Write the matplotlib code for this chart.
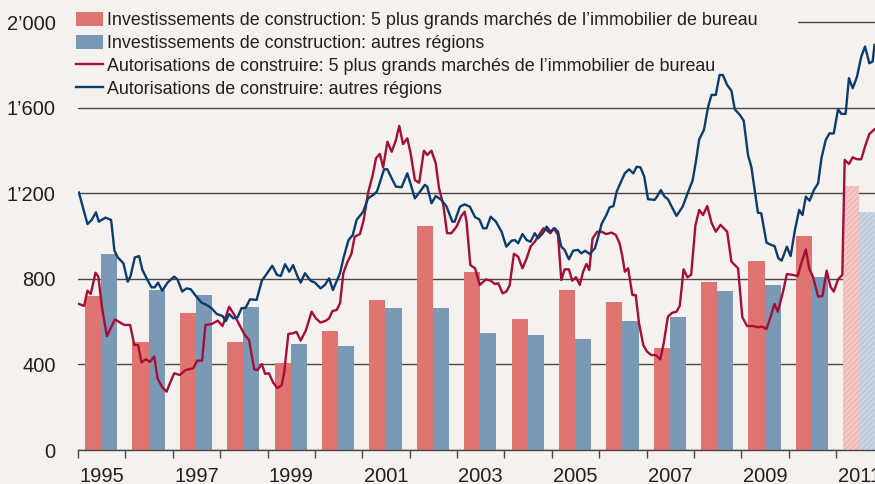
import numpy as np
import matplotlib
matplotlib.use("Agg")
import matplotlib.pyplot as plt
from matplotlib.patches import Patch, Rectangle
from matplotlib.lines import Line2D

# annual bars (last year = forecast, hatched)
years = np.arange(1995, 2012)
inv_top5 = [720, 504, 640, 504, 406, 555, 700, 1050, 831, 611, 747, 691, 476, 784, 882, 999, 1237]
inv_other = [919, 747, 723, 669, 495, 485, 663, 663, 546, 537, 518, 602, 621, 742, 770, 807, 1111]

# building permits (time in years, value)
perm_other_t = [1995.02, 1995.20, 1995.29, 1995.38, 1995.44, 1995.58, 1995.70, 1995.77, 1995.84, 1995.96,
                1996.05, 1996.11, 1996.20, 1996.29, 1996.36, 1996.45, 1996.55, 1996.62, 1996.69, 1996.78,
                1996.89, 1997.03, 1997.10, 1997.20, 1997.29, 1997.38, 1997.50, 1997.61, 1997.72, 1997.82,
                1997.93, 1998.05, 1998.12, 1998.19, 1998.28, 1998.37, 1998.45, 1998.54, 1998.63, 1998.77,
                1998.88, 1998.98, 1999.10, 1999.20, 1999.28, 1999.37, 1999.46, 1999.54, 1999.64, 1999.70,
                1999.79, 1999.91, 2000.00, 2000.12, 2000.21, 2000.30, 2000.38, 2000.53, 2000.61, 2000.71,
                2000.80, 2000.88, 2001.02, 2001.12, 2001.23, 2001.31, 2001.46, 2001.53, 2001.62, 2001.71,
                2001.83, 2001.95, 2002.02, 2002.11, 2002.22, 2002.32, 2002.37, 2002.46, 2002.55, 2002.67,
                2002.78, 2002.90, 2002.95, 2003.06, 2003.16, 2003.27, 2003.38, 2003.47, 2003.55, 2003.62,
                2003.71, 2003.82, 2003.94, 2004.04, 2004.15, 2004.22, 2004.29, 2004.38, 2004.47, 2004.55,
                2004.64, 2004.71, 2004.82, 2004.89, 2004.97, 2005.06, 2005.13, 2005.20, 2005.27, 2005.36,
                2005.45, 2005.55, 2005.62, 2005.70, 2005.80, 2005.91, 2005.98, 2006.05, 2006.15, 2006.22,
                2006.30, 2006.37, 2006.45, 2006.54, 2006.63, 2006.72, 2006.79, 2006.87, 2006.95, 2007.03,
                2007.17, 2007.22, 2007.30, 2007.38, 2007.45, 2007.63, 2007.76, 2007.88, 2007.97, 2008.04,
                2008.11, 2008.21, 2008.30, 2008.37, 2008.46, 2008.54, 2008.61, 2008.70, 2008.79, 2008.86,
                2008.97, 2009.05, 2009.14, 2009.21, 2009.35, 2009.42, 2009.53, 2009.63, 2009.70, 2009.78,
                2009.85, 2009.96, 2010.04, 2010.13, 2010.22, 2010.29, 2010.36, 2010.44, 2010.53, 2010.62,
                2010.69, 2010.78, 2010.86, 2010.95, 2011.04, 2011.11, 2011.20, 2011.27, 2011.35, 2011.44,
                2011.53, 2011.61, 2011.70, 2011.77, 2011.81]
perm_other_v = [1204, 1057, 1076, 1112, 1068, 1087, 1076, 932, 901, 873,
                787, 814, 901, 907, 842, 803, 761, 761, 783, 745,
                783, 811, 798, 741, 756, 752, 717, 689, 678, 663,
                636, 627, 603, 636, 616, 621, 663, 666, 705, 702,
                792, 823, 862, 819, 814, 869, 834, 865, 808, 783,
                827, 792, 783, 756, 772, 803, 748, 827, 904, 982,
                1006, 1076, 1115, 1177, 1193, 1209, 1313, 1313, 1271, 1232,
                1229, 1294, 1244, 1177, 1209, 1240, 1232, 1154, 1188, 1170,
                1138, 1068, 1068, 1138, 1149, 1138, 1089, 1079, 1037, 1037,
                1091, 1068, 1021, 951, 979, 982, 967, 1010, 982, 974,
                1014, 990, 1017, 1045, 1021, 1037, 1021, 951, 936, 892,
                932, 936, 920, 932, 917, 944, 998, 1057, 1099, 1135,
                1141, 1209, 1250, 1294, 1313, 1294, 1325, 1322, 1279, 1173,
                1170, 1185, 1216, 1185, 1173, 1095, 1138, 1209, 1260, 1349,
                1453, 1497, 1607, 1661, 1661, 1754, 1754, 1707, 1681, 1594,
                1567, 1540, 1380, 1325, 1110, 1107, 970, 959, 954, 897,
                886, 951, 907, 1029, 1123, 1099, 1185, 1166, 1216, 1248,
                1365, 1450, 1481, 1481, 1594, 1572, 1572, 1739, 1692, 1746,
                1840, 1887, 1809, 1817, 1895]

perm_top5_t = [1995.02, 1995.13, 1995.20, 1995.27, 1995.37, 1995.43, 1995.51, 1995.61, 1995.70, 1995.78,
               1995.89, 1995.98, 1996.10, 1996.19, 1996.27, 1996.34, 1996.43, 1996.52, 1996.61, 1996.68,
               1996.78, 1996.87, 1996.94, 1997.03, 1997.15, 1997.27, 1997.43, 1997.52, 1997.62, 1997.69,
               1997.82, 1997.95, 1998.05, 1998.12, 1998.19, 1998.30, 1998.42, 1998.52, 1998.61, 1998.72,
               1998.79, 1998.88, 1998.95, 1999.03, 1999.12, 1999.21, 1999.30, 1999.35, 1999.44, 1999.54,
               1999.61, 1999.70, 1999.81, 1999.93, 2000.02, 2000.12, 2000.23, 2000.30, 2000.37, 2000.46,
               2000.53, 2000.60, 2000.68, 2000.77, 2000.84, 2000.95, 2001.03, 2001.12, 2001.22, 2001.29,
               2001.37, 2001.44, 2001.53, 2001.62, 2001.71, 2001.78, 2001.86, 2001.95, 2002.02, 2002.11,
               2002.20, 2002.30, 2002.37, 2002.46, 2002.55, 2002.62, 2002.71, 2002.79, 2002.88, 2002.99,
               2003.09, 2003.16, 2003.20, 2003.28, 2003.38, 2003.48, 2003.61, 2003.71, 2003.80, 2003.87,
               2003.96, 2004.04, 2004.11, 2004.20, 2004.29, 2004.38, 2004.47, 2004.55, 2004.64, 2004.73,
               2004.82, 2004.90, 2004.97, 2005.04, 2005.13, 2005.20, 2005.27, 2005.36, 2005.43, 2005.51,
               2005.59, 2005.66, 2005.73, 2005.79, 2005.86, 2005.96, 2006.05, 2006.15, 2006.26, 2006.35,
               2006.43, 2006.49, 2006.54, 2006.61, 2006.70, 2006.77, 2006.84, 2006.93, 2007.01, 2007.10,
               2007.19, 2007.29, 2007.36, 2007.45, 2007.54, 2007.63, 2007.70, 2007.78, 2007.86, 2007.94,
               2008.03, 2008.11, 2008.19, 2008.28, 2008.37, 2008.46, 2008.56, 2008.70, 2008.79, 2008.93,
               2009.02, 2009.12, 2009.25, 2009.35, 2009.44, 2009.53, 2009.63, 2009.70, 2009.77, 2009.88,
               2009.96, 2010.08, 2010.19, 2010.26, 2010.36, 2010.43, 2010.51, 2010.62, 2010.71, 2010.80,
               2010.88, 2010.95, 2011.04, 2011.13, 2011.18, 2011.27, 2011.35, 2011.44, 2011.53, 2011.62,
               2011.70, 2011.81]
perm_top5_v = [683, 674, 745, 730, 829, 811, 663, 533, 574, 611,
               596, 585, 585, 491, 491, 410, 424, 413, 437, 335,
               293, 273, 312, 359, 351, 374, 382, 418, 418, 585,
               589, 605, 580, 624, 670, 632, 580, 538, 515, 377,
               374, 402, 356, 359, 315, 289, 304, 359, 543, 546,
               553, 512, 560, 647, 616, 596, 605, 616, 650, 655,
               686, 827, 876, 917, 998, 1010, 1076, 1201, 1286, 1365,
               1385, 1322, 1442, 1395, 1450, 1516, 1431, 1458, 1388, 1263,
               1250, 1400, 1380, 1400, 1341, 1224, 1146, 1014, 1014, 1045,
               1095, 1115, 1068, 865, 850, 772, 798, 792, 776, 780,
               733, 741, 770, 918, 904, 850, 897, 951, 974, 1006,
               1037, 1026, 1014, 1037, 1006, 795, 845, 845, 792, 808,
               772, 834, 870, 842, 990, 1021, 1021, 1010, 1017, 1006,
               967, 904, 834, 850, 725, 725, 593, 491, 460, 444,
               444, 424, 499, 624, 642, 647, 674, 845, 808, 819,
               1050, 1123, 1099, 1141, 1063, 1021, 1053, 1021, 881, 850,
               621, 580, 580, 574, 577, 566, 632, 683, 647, 741,
               823, 819, 814, 870, 939, 850, 811, 717, 720, 839,
               764, 741, 798, 819, 1357, 1338, 1369, 1360, 1360, 1427,
               1478, 1500]

labels = ["Investissements de construction: 5 plus grands marchés de l\u2019immobilier de bureau",
          "Investissements de construction: autres régions",
          "Autorisations de construire: 5 plus grands marchés de l\u2019immobilier de bureau",
          "Autorisations de construire: autres régions"]

BG = "#f4f1ee"
RED_BAR, BLUE_BAR = "#e07470", "#7a99b4"
RED_FC, BLUE_FC = "#f5c8c6", "#c8d6e3"
RED_LINE, BLUE_LINE = "#a50e36", "#0b3c6c"
TXT = "#231f20"
GRID = "#4a4646"

plt.rcParams["font.family"] = ["Liberation Sans", "DejaVu Sans"]
plt.rcParams["hatch.linewidth"] = 0.6

fig = plt.figure(figsize=(8.75, 4.84), dpi=100, facecolor=BG)
ax = fig.add_axes([0.0891, 0.0702, 0.9109, 0.9056])
ax.set_facecolor(BG)

bw = 0.34
last = len(years) - 1
for i, yr in enumerate(years):
    if i < last:
        ax.bar(yr + 0.32, inv_top5[i], bw, color=RED_BAR, zorder=2)
        ax.bar(yr + 0.66, inv_other[i], bw, color=BLUE_BAR, zorder=2)
    else:
        ax.bar(yr + 0.32, inv_top5[i], bw, facecolor=RED_FC, edgecolor="#eaa9a7",
               hatch="//////", linewidth=0, zorder=2)
        ax.bar(yr + 0.66, inv_other[i], bw, facecolor=BLUE_FC, edgecolor="#aebfd0",
               hatch="//////", linewidth=0, zorder=2)

ax.plot(perm_top5_t, perm_top5_v, color=RED_LINE, lw=1.7, zorder=3, solid_joinstyle="round")
ax.plot(perm_other_t, perm_other_v, color=BLUE_LINE, lw=1.7, zorder=4, solid_joinstyle="round")

ax.set_xlim(1995, 2011.82)
ax.set_ylim(0, 2050)

ax.set_yticks([0, 400, 800, 1200, 1600, 2000])
ax.set_yticklabels(["0", "400", "800", "1\u2019200", "1\u2019600", "2\u2019000"])
ax.yaxis.grid(True, color=GRID, lw=1.0)
ax.set_axisbelow(True)
ax.tick_params(axis="y", length=0, pad=16, labelsize=14.5, labelcolor=TXT)

ax.set_xticks(np.arange(1995, 2012))
ax.set_xticklabels([])
ax.set_xticks(np.arange(1995, 2012, 2) + 0.5, minor=True)
ax.set_xticklabels([str(y) for y in range(1995, 2012, 2)], minor=True)
ax.tick_params(axis="x", which="major", length=6, width=1, color=GRID, direction="out")
ax.tick_params(axis="x", which="minor", length=0, pad=12, labelsize=14.5, labelcolor=TXT)

for s in ["top", "right", "left"]:
    ax.spines[s].set_visible(False)
ax.spines["bottom"].set_color(GRID)
ax.spines["bottom"].set_linewidth(1.0)

# legend area hides the top gridline
ax.add_patch(Rectangle((0, 0.95), 0.903, 0.08, transform=ax.transAxes,
                       facecolor=BG, edgecolor="none", zorder=1.5, clip_on=False))

handles = [Patch(facecolor=RED_BAR), Patch(facecolor=BLUE_BAR),
           Line2D([], [], color=RED_LINE, lw=1.7), Line2D([], [], color=BLUE_LINE, lw=1.7)]
leg = fig.legend(handles, labels, loc="upper left", bbox_to_anchor=(76 / 875, 1 - 12 / 484),
                 frameon=False, fontsize=12.9, borderaxespad=0, borderpad=0,
                 handlelength=1.5, handleheight=0.8, handletextpad=0.25, labelspacing=0.32)
for t in leg.get_texts():
    t.set_color(TXT)

fig.savefig("out.png", dpi=100, facecolor=BG)
